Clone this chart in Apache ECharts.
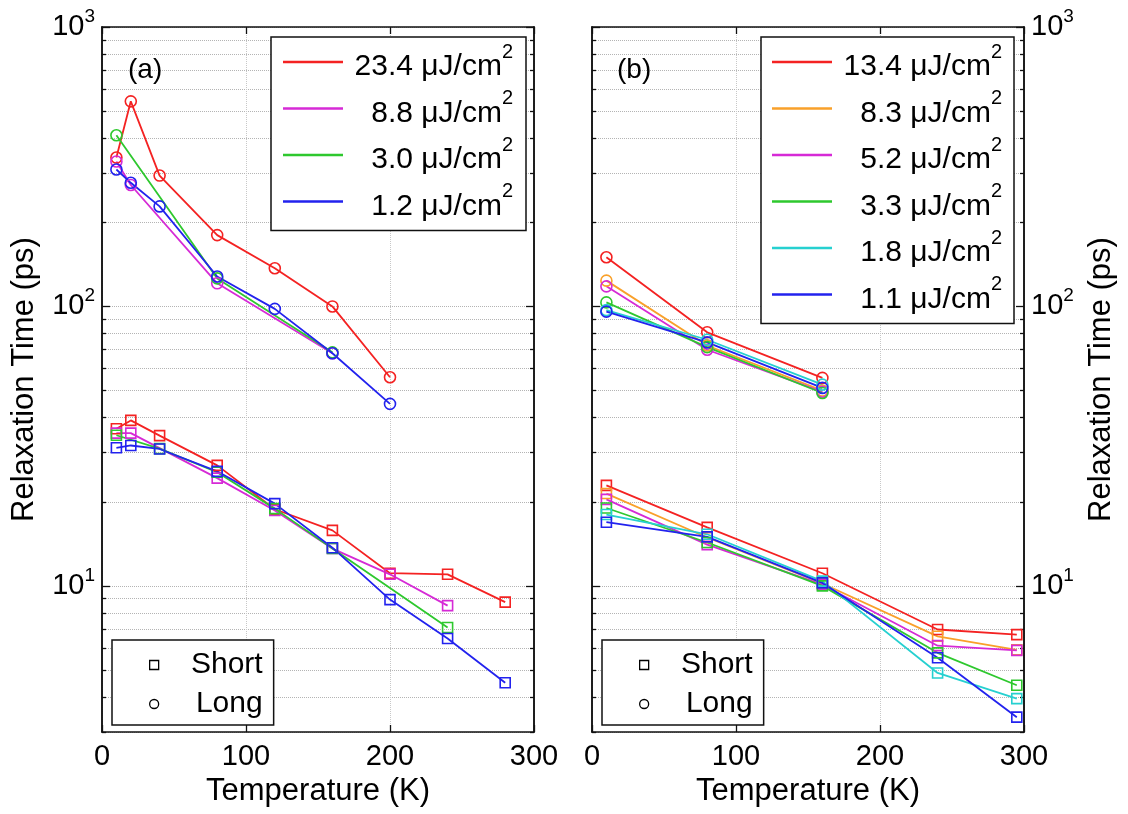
<!DOCTYPE html>
<html><head><meta charset="utf-8">
<script src="https://cdn.jsdelivr.net/npm/echarts@6/dist/echarts.min.js"></script>
<style>html,body{margin:0;padding:0;background:#fff}#c{width:1128px;height:814px}</style>
</head><body><div id="c"></div>
<script>
const FONT = 'Liberation Sans, Arial, Helvetica, sans-serif';

// ---- axis ticks ----
const xTicks = [0, 100, 200, 300];
const yMajorTicks = [10, 100, 1000];
const yMinorTicks = [3,4,5,6,7,8,9,20,30,40,50,60,70,80,90,200,300,400,500,600,700,800,900];

// ---- panel (a) ----
const fluenceA = ['23.4', '8.8', '3.0', '1.2'];
const colorA = ['#f42222', '#d62ad6', '#2ec82e', '#2222ee'];
const aShortT = [
  [10, 20, 40, 80, 120, 160, 200, 240, 280],
  [10, 20, 80, 120, 160, 200, 240],
  [10, 40, 80, 120, 160, 240],
  [10, 20, 40, 80, 120, 160, 200, 240, 280]
];
const aShortV = [
  [36.5, 39.1, 34.5, 27.0, 18.8, 15.8, 11.1, 11.0, 8.75],
  [35.2, 35.2, 24.3, 18.6, 13.6, 11.0, 8.5],
  [34.6, 31.0, 25.5, 18.9, 13.6, 7.1],
  [31.2, 31.8, 30.9, 25.7, 19.7, 13.7, 8.93, 6.48, 4.5]
];
const aLongT = [
  [10, 20, 40, 80, 120, 160, 200],
  [10, 20, 80, 160],
  [10, 80, 160],
  [10, 20, 40, 80, 120, 160, 200]
];
const aLongV = [
  [341, 542, 294, 180, 137, 100, 55.8],
  [330, 272, 121, 68],
  [410, 126, 68.5],
  [309, 277, 228, 128, 98, 68, 44.8]
];

// ---- panel (b) ----
const fluenceB = ['13.4', '8.3', '5.2', '3.3', '1.8', '1.1'];
const colorB = ['#f42222', '#f9a02a', '#d62ad6', '#2ec82e', '#26d0d0', '#2222ee'];
const bShortT = [10, 80, 160, 240, 295];
const bShortV = [
  [22.9, 16.2, 11.1, 6.98, 6.69],
  [21.4, 14.9, 10.2, 6.6, 5.9],
  [20.4, 14.05, 10.1, 6.11, 5.88],
  [19.0, 14.3, 10.0, 5.76, 4.41],
  [18.0, 15.3, 10.4, 4.88, 3.95],
  [16.9, 14.97, 10.25, 5.53, 3.39]
];
const bLongT = [10, 80, 160];
const bLongV = [
  [150, 80.8, 55.5],
  [123.7, 72.5, 50.0],
  [118, 70.0, 49.5],
  [103.4, 71.5, 49.0],
  [97, 76, 52.5],
  [95.8, 74.4, 51.1]
];

const fluName = f => f + ' \u03bcJ/cm2';

function lineSeries(name, color, T, V, symbol, g) {
  return {
    type: 'line', name: name,
    xAxisIndex: g * 2, yAxisIndex: g * 4,
    data: T.map((t, i) => [t, V[i]]),
    symbol: symbol, symbolSize: symbol === 'circle' ? 11 : 10,
    showSymbol: true, showAllSymbol: true,
    lineStyle: { color: color, width: 1.8 },
    itemStyle: { color: 'transparent', borderColor: color, borderWidth: 1.6 },
    emphasis: { disabled: true }, silent: true, animation: false
  };
}

const series = [];
fluenceA.forEach((f, i) => {
  series.push(lineSeries(fluName(f), colorA[i], aShortT[i], aShortV[i], 'rect', 0));
  series.push(lineSeries(fluName(f), colorA[i], aLongT[i], aLongV[i], 'circle', 0));
});
fluenceB.forEach((f, i) => {
  series.push(lineSeries(fluName(f), colorB[i], bShortT, bShortV[i], 'rect', 1));
  series.push(lineSeries(fluName(f), colorB[i], bLongT, bLongV[i], 'circle', 1));
});
// marker-only legend entries
['Short', 'Long'].forEach((n, i) => series.push({
  type: 'line', name: n, xAxisIndex: 0, yAxisIndex: 0, data: [],
  symbol: i === 0 ? 'rect' : 'circle',
  itemStyle: { color: 'transparent', borderColor: '#000', borderWidth: 1.3 },
  lineStyle: { width: 0 }
}));

const supLabel = v => '{b|10}{s|' + Math.round(Math.log10(v)) + '}';

function xAx(g, pos, main) {
  return {
    type: 'value', gridIndex: g, position: pos, min: 0, max: 300, interval: 100,
    axisLine: { show: true, onZero: false, lineStyle: { color: '#111', width: 1.5 } },
    axisTick: { show: true, inside: true, length: 7, lineStyle: { color: '#111', width: 1.3 } },
    axisLabel: { show: main, margin: 10, fontFamily: FONT, fontSize: 29, color: '#000' },
    splitLine: { show: main, lineStyle: { color: '#c8c8c8', type: 'dotted', width: 1 } },
    name: main ? 'Temperature (K)' : '', nameLocation: 'middle', nameGap: 43,
    nameTextStyle: { fontFamily: FONT, fontSize: 31, color: '#000' }
  };
}

function yAx(g, pos, major, showLabel, showSplit) {
  const ticks = major ? yMajorTicks : yMinorTicks;
  return {
    type: 'log', logBase: 10, gridIndex: g, position: pos, offset: 0, min: 3, max: 1000,
    axisLine: { show: true, lineStyle: { color: '#111', width: 1.5 } },
    axisTick: { show: true, inside: true, length: major ? 8 : 4, customValues: ticks,
                lineStyle: { color: '#111', width: 1.3 } },
    axisLabel: { show: showLabel, customValues: yMajorTicks, margin: 7,
                 formatter: supLabel,
                 rich: {
                   b: { fontFamily: FONT, fontSize: 29, lineHeight: 40, color: '#000' },
                   s: { fontFamily: FONT, fontSize: 19, verticalAlign: 'top', color: '#000' }
                 } },
    splitLine: { show: showSplit, lineStyle: { color: '#b4b4b4', type: 'dotted', width: 1 } },
    minorTick: { show: false }, minorSplitLine: { show: false },
    name: showLabel ? 'Relaxation Time (ps)' : '', nameLocation: 'middle', nameRotate: 90, nameGap: 62,
    nameTextStyle: { fontFamily: FONT, fontSize: 31, color: '#000' }
  };
}

const fluLegendText = {
  width: 165,
  rich: {
    n: { fontFamily: FONT, fontSize: 30, lineHeight: 40, color: '#000', align: 'right', padding: [10, 0, 0, 0] },
    s: { fontFamily: FONT, fontSize: 20, verticalAlign: 'top', color: '#000', align: 'right' }
  }
};
function fluLegend(fl, colors, left, padL, padR) {
  return {
    orient: 'vertical', left: left, top: 37, selectedMode: false,
    itemWidth: 60, itemHeight: 2.5, itemGap: 6.5,
    padding: [5, padR, 9, padL],
    backgroundColor: '#fff', borderColor: '#111', borderWidth: 1.5,
    data: fl.map((f, i) => ({ name: fluName(f), icon: 'rect',
      itemStyle: { color: colors[i], borderWidth: 0 } })),
    formatter: name => '{n|' + name.slice(0, -1) + '}{s|2}',
    textStyle: fluLegendText
  };
}
function typeLegend(left) {
  return {
    orient: 'vertical', left: left, top: 640, selectedMode: false,
    itemWidth: 9, itemHeight: 9, itemGap: 9,
    padding: [10, 11, 6, 37],
    backgroundColor: '#fff', borderColor: '#111', borderWidth: 1.5,
    data: [
      { name: 'Short', icon: 'rect', itemStyle: { color: 'transparent', borderColor: '#000', borderWidth: 1.3 } },
      { name: 'Long', icon: 'circle', itemStyle: { color: 'transparent', borderColor: '#000', borderWidth: 1.3 } }
    ],
    formatter: name => '{n|' + name + '}',
    textStyle: { width: 99, rich: { n: { fontFamily: FONT, fontSize: 30, lineHeight: 30, color: '#000', align: 'right' } } }
  };
}

const chart = echarts.init(document.getElementById('c'), null, { renderer: 'canvas' });
chart.setOption({
  animation: false,
  backgroundColor: '#fff',
  title: [
    { text: '(a)', left: 123, top: 51, textStyle: { fontFamily: FONT, fontSize: 28, fontWeight: 'normal', color: '#000' } },
    { text: '(b)', left: 612, top: 51, textStyle: { fontFamily: FONT, fontSize: 28, fontWeight: 'normal', color: '#000' } }
  ],
  grid: [
    { left: 102, top: 27, width: 432, height: 705, containLabel: false },
    { left: 592, top: 27, width: 432, height: 705, containLabel: false }
  ],
  xAxis: [xAx(0, 'bottom', true), xAx(0, 'top', false), xAx(1, 'bottom', true), xAx(1, 'top', false)],
  yAxis: [
    yAx(0, 'left', true, true, true), yAx(0, 'left', false, false, true),
    yAx(0, 'right', true, false, false), yAx(0, 'right', false, false, false),
    yAx(1, 'left', true, false, true), yAx(1, 'left', false, false, true),
    yAx(1, 'right', true, true, false), yAx(1, 'right', false, false, false)
  ],
  legend: [
    fluLegend(fluenceA, colorA, 271, 12, 13),
    fluLegend(fluenceB, colorB, 761, 11, 12),
    typeLegend(112),
    typeLegend(602)
  ],
  series: series
});
</script></body></html>
